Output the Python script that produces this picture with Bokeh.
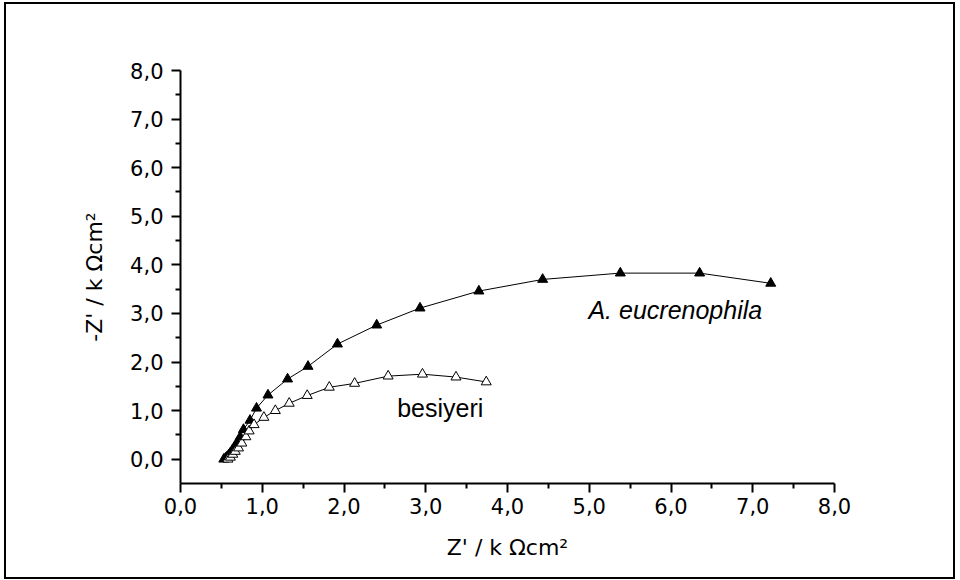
from bokeh.plotting import figure
from bokeh.models import Range1d, FixedTicker, CustomJSTickFormatter, Label
from bokeh.embed import file_html
from bokeh.resources import INLINE

# A. eucrenophila (filled triangles)
euc_x = [0.53, 0.55, 0.57, 0.59, 0.61, 0.63, 0.66, 0.69, 0.73, 0.77, 0.85, 0.93,
         1.07, 1.31, 1.56, 1.92, 2.40, 2.93, 3.65, 4.43, 5.38, 6.35, 7.22]
euc_y = [0.00, 0.02, 0.05, 0.09, 0.13, 0.18, 0.25, 0.34, 0.46, 0.61, 0.80, 1.05,
         1.32, 1.65, 1.91, 2.37, 2.76, 3.11, 3.46, 3.70, 3.83, 3.83, 3.62]

# besiyeri (open triangles)
bes_x = [0.58, 0.61, 0.64, 0.67, 0.71, 0.75, 0.80, 0.84, 0.90, 1.02, 1.16, 1.33,
         1.55, 1.82, 2.13, 2.54, 2.96, 3.37, 3.74]
bes_y = [0.00, 0.04, 0.10, 0.16, 0.23, 0.33, 0.46, 0.58, 0.71, 0.86, 1.00, 1.15,
         1.31, 1.48, 1.56, 1.71, 1.75, 1.69, 1.59]

major_ticks = [0, 1, 2, 3, 4, 5, 6, 7, 8]
minor_ticks = [0.5, 1.5, 2.5, 3.5, 4.5, 5.5, 6.5, 7.5]

FONT = "DejaVu Sans"

p = figure(width=951, height=577, output_backend="svg", toolbar_location=None,
           x_range=Range1d(0, 8), y_range=Range1d(-0.5, 8),
           min_border_left=174, min_border_right=123, min_border_top=66, min_border_bottom=98)
p.styles = {"border": "2px solid black", "margin-left": "4px", "margin-top": "2px"}
p.outline_line_color = None
p.xgrid.visible = False
p.ygrid.visible = False
p.background_fill_color = "white"
p.border_fill_color = "white"

fmt = CustomJSTickFormatter(code="return tick.toFixed(1).replace('.', ',');")
for ax in (p.xaxis[0], p.yaxis[0]):
    ax.ticker = FixedTicker(ticks=major_ticks, minor_ticks=minor_ticks)
    ax.formatter = fmt
    ax.axis_line_width = 2
    ax.axis_line_color = "black"
    ax.major_tick_line_width = 2
    ax.minor_tick_line_width = 2
    ax.major_tick_line_color = "black"
    ax.minor_tick_line_color = "black"
    ax.major_tick_in = 0
    ax.major_tick_out = 9
    ax.minor_tick_in = 0
    ax.minor_tick_out = 5
    ax.major_label_text_font = FONT
    ax.major_label_text_font_size = "21px"
    ax.major_label_text_color = "black"
    ax.axis_label_text_font = FONT
    ax.axis_label_text_font_size = "22px"
    ax.axis_label_text_font_style = "normal"
    ax.axis_label_text_color = "black"
p.yaxis[0].major_label_standoff = 8
p.xaxis[0].major_label_standoff = 5
p.xaxis[0].axis_label = "Z' / k \u03a9cm\u00b2"
p.yaxis[0].axis_label = "-Z' / k \u03a9cm\u00b2"
p.xaxis[0].axis_label_standoff = 18
p.yaxis[0].axis_label_standoff = 20

p.line(euc_x, euc_y, line_color="black", line_width=1)
p.scatter(euc_x, euc_y, marker="triangle", size=10, fill_color="black", line_color="black")
p.line(bes_x, bes_y, line_color="black", line_width=1)
p.scatter(bes_x, bes_y, marker="triangle", size=10, fill_color="white", line_color="black")

p.add_layout(Label(x=4.99, y=3.07, text="A. eucrenophila", text_font="Liberation Sans",
                   text_font_style="italic", text_font_size="25px", text_color="black",
                   text_baseline="alphabetic", text_align="left"))
p.add_layout(Label(x=2.65, y=1.06, text="besiyeri", text_font="Liberation Sans",
                   text_font_size="25px", text_color="black",
                   text_baseline="alphabetic", text_align="left"))

open("out.html", "w").write(file_html(p, INLINE))
